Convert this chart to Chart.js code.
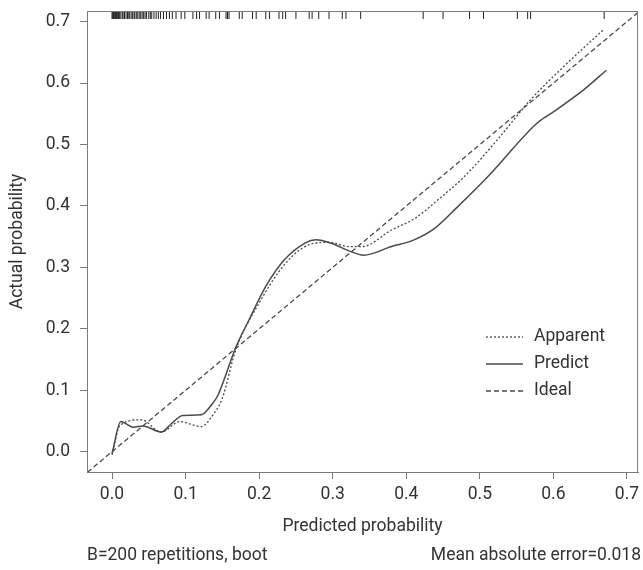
<!DOCTYPE html>
<html>
<head>
<meta charset="utf-8">
<script src="https://cdn.jsdelivr.net/npm/chart.js@4.4.1/dist/chart.umd.min.js"></script>
<style>
  html, body { margin: 0; padding: 0; background: #fff; }
  #wrap { width: 643px; height: 570px; position: relative; }
</style>
</head>
<body>
<div id="wrap"><canvas id="chart" width="643" height="570"></canvas></div>
<script>
// ── Data ──────────────────────────────────────────────────────────────────────

const X_TICKS = [0.0, 0.1, 0.2, 0.3, 0.4, 0.5, 0.6, 0.7];
const Y_TICKS = [0.0, 0.1, 0.2, 0.3, 0.4, 0.5, 0.6, 0.7];

const apparentX = [0.000, 0.011, 0.040, 0.067, 0.092, 0.121, 0.139, 0.150, 0.168, 0.200, 0.236, 0.268, 0.295, 0.322, 0.340, 0.380, 0.412, 0.443, 0.479, 0.524, 0.569, 0.614, 0.668];
const apparentY = [-0.005, 0.043, 0.052, 0.032, 0.049, 0.041, 0.063, 0.087, 0.165, 0.242, 0.307, 0.337, 0.341, 0.334, 0.334, 0.361, 0.380, 0.410, 0.448, 0.508, 0.573, 0.627, 0.687];

const predictX = [0.000, 0.012, 0.029, 0.042, 0.067, 0.081, 0.096, 0.121, 0.137, 0.144, 0.169, 0.186, 0.209, 0.234, 0.263, 0.277, 0.299, 0.322, 0.342, 0.380, 0.409, 0.439, 0.470, 0.515, 0.578, 0.601, 0.641, 0.672];
const predictY = [-0.003, 0.049, 0.040, 0.042, 0.032, 0.046, 0.059, 0.060, 0.079, 0.092, 0.172, 0.214, 0.269, 0.312, 0.340, 0.345, 0.339, 0.327, 0.320, 0.334, 0.344, 0.364, 0.399, 0.453, 0.535, 0.554, 0.589, 0.621];

const idealX = [-0.05, 0.75];
const idealY = [-0.05, 0.75];

// predicted probabilities shown as the rug along the top
const rugX = [
  0.000, 0.001, 0.002, 0.003, 0.004, 0.005, 0.006, 0.007, 0.008, 0.009, 0.010,
  0.012, 0.014, 0.015, 0.017, 0.019, 0.021, 0.022, 0.024, 0.026, 0.028, 0.030,
  0.031, 0.033, 0.035, 0.037, 0.039, 0.041, 0.043, 0.045, 0.047, 0.050, 0.052,
  0.054, 0.057, 0.060, 0.063, 0.066, 0.070, 0.074, 0.078, 0.082, 0.087,
  0.094, 0.099, 0.110, 0.115, 0.119, 0.128, 0.132, 0.141, 0.146, 0.155, 0.157,
  0.159, 0.173, 0.177, 0.191, 0.196, 0.209, 0.214, 0.227, 0.232, 0.236, 0.250,
  0.268, 0.272, 0.281, 0.295, 0.313, 0.318, 0.338, 0.423, 0.450, 0.486, 0.505,
  0.551, 0.565, 0.569, 0.669
];

const LEGEND_LABELS = ["Apparent", "Predict", "Ideal"];
const X_TITLE = "Predicted probability";
const Y_TITLE = "Actual probability";
const NOTE_LEFT = "B=200 repetitions, boot";
const NOTE_RIGHT = "Mean absolute error=0.018";

// ── Layout / style ────────────────────────────────────────────────────────────

const X_MIN = -0.034, X_MAX = 0.715;
const Y_MIN = -0.033, Y_MAX = 0.7174;
const FONT = "Roboto, 'Liberation Sans', sans-serif";
const FSIZE = 17.5;
const TEXT = "#333333";
const AXIS = "#7a7a7a";
const LINE = "#4a4a4a";

const pts = (xs, ys) => xs.map((x, i) => ({ x, y: ys[i] }));

// box around the plotting region, legend and the two footnotes
const framePlugin = {
  id: "frame",
  afterDatasetsDraw(chart) {
    const { ctx, chartArea: a } = chart;
    ctx.save();
    ctx.strokeStyle = AXIS;
    ctx.lineWidth = 1;
    ctx.strokeRect(a.left + 0.5, a.top + 0.5, a.right - a.left - 1, a.bottom - a.top);

    // legend (bottom right inside plot)
    const ds = chart.data.datasets;
    const lx = 486, ly = 337, step = 27;
    ctx.font = FSIZE + "px " + FONT;
    ctx.textBaseline = "middle";
    LEGEND_LABELS.forEach((label, i) => {
      const d = ds[i];
      const y = ly + i * step;
      ctx.strokeStyle = d.borderColor;
      ctx.lineWidth = d.borderWidth;
      ctx.setLineDash(d.borderDash || []);
      ctx.beginPath();
      ctx.moveTo(lx, y);
      ctx.lineTo(lx + 37, y);
      ctx.stroke();
      ctx.setLineDash([]);
      ctx.fillStyle = TEXT;
      ctx.fillText(label, lx + 48, y);
    });

    // footnotes
    ctx.textAlign = "left";
    ctx.fillText(NOTE_LEFT, 87, 556);
    ctx.textAlign = "right";
    ctx.fillText(NOTE_RIGHT, 641, 556);
    ctx.restore();
  },
};

new Chart(document.getElementById("chart"), {
  type: "scatter",
  data: {
    datasets: [
      {
        label: "Apparent",
        data: pts(apparentX, apparentY),
        showLine: true,
        borderColor: LINE,
        borderWidth: 1.3,
        borderDash: [2, 2],
        pointRadius: 0,
        cubicInterpolationMode: "monotone",
      },
      {
        label: "Predict",
        data: pts(predictX, predictY),
        showLine: true,
        borderColor: LINE,
        borderWidth: 1.5,
        pointRadius: 0,
        cubicInterpolationMode: "monotone",
      },
      {
        label: "Ideal",
        data: pts(idealX, idealY),
        showLine: true,
        borderColor: LINE,
        borderWidth: 1.3,
        borderDash: [5, 3],
        pointRadius: 0,
      },
      {
        label: "rug",
        data: rugX.map((x) => ({ x, y: Y_MAX - 0.0065 })),
        showLine: false,
        pointStyle: "line",
        rotation: 90,
        pointRadius: 4,
        borderColor: "#222",
        borderWidth: 1,
        clip: false,
      },
    ],
  },
  options: {
    responsive: false,
    animation: false,
    events: [],
    layout: { padding: { left: 0, top: 11, right: 2, bottom: 0 } },
    plugins: { legend: { display: false }, tooltip: { enabled: false } },
    scales: {
      x: {
        type: "linear",
        min: X_MIN,
        max: X_MAX,
        afterBuildTicks: (s) => { s.ticks = X_TICKS.map((v) => ({ value: v })); },
        afterFit: (s) => { s.height = 98; s.paddingLeft = 0; s.paddingRight = 0; },
        grid: { display: true, drawOnChartArea: false, drawTicks: true, tickLength: 7, color: AXIS },
        border: { display: true, color: AXIS },
        ticks: { color: TEXT, font: { family: FONT, size: FSIZE }, padding: 5, callback: (v) => v.toFixed(1) },
        title: { display: true, text: X_TITLE, color: TEXT, font: { family: FONT, size: FSIZE }, padding: { top: 0, bottom: 33 } },
      },
      y: {
        type: "linear",
        min: Y_MIN,
        max: Y_MAX,
        afterBuildTicks: (s) => { s.ticks = Y_TICKS.map((v) => ({ value: v })); },
        afterFit: (s) => { s.width = 87; s.paddingTop = 0; s.paddingBottom = 0; },
        grid: { display: true, drawOnChartArea: false, drawTicks: true, tickLength: 7, color: AXIS },
        border: { display: true, color: AXIS },
        ticks: { color: TEXT, font: { family: FONT, size: FSIZE }, padding: 10, callback: (v) => v.toFixed(1) },
        title: { display: true, text: Y_TITLE, color: TEXT, font: { family: FONT, size: FSIZE }, padding: { top: 7, bottom: 0 } },
      },
    },
  },
  plugins: [framePlugin],
});
</script>
</body>
</html>
